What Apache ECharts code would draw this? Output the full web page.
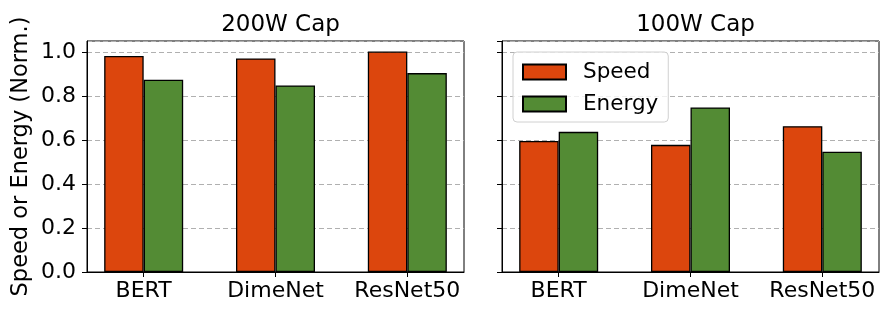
<!DOCTYPE html>
<html>
<head>
<meta charset="utf-8">
<script src="https://cdn.jsdelivr.net/npm/echarts@6/dist/echarts.min.js"></script>
<style>html,body{margin:0;padding:0;background:#fff}#c{width:891px;height:317px}</style>
</head>
<body>
<div id="c"></div>
<script>
const categories = ['BERT', 'DimeNet', 'ResNet50'];
const panelTitles = ['200W Cap', '100W Cap'];
const speed200 = [0.982, 0.971, 1.002];
const energy200 = [0.874, 0.848, 0.904];
const speed100 = [0.596, 0.578, 0.663];
const energy100 = [0.637, 0.748, 0.547];

const RED = '#DC460D';
const GREEN = '#538B34';
const FONT = 'DejaVu Sans';

const chart = echarts.init(document.getElementById('c'), null, {renderer: 'canvas'});
const grids = [
  {left: 87, top: 41, width: 377, height: 231},
  {left: 502, top: 41, width: 377, height: 231}
];
function xAxis(i) {
  return {
    type: 'value', gridIndex: i, min: -0.43, max: 2.43,
    axisLine: {show: true, onZero: false, lineStyle: {color: '#000', width: 1}},
    axisTick: {show: true, customValues: [0, 1, 2], length: 5, lineStyle: {color: '#000'}},
    axisLabel: {customValues: [0, 1, 2], formatter: v => categories[Math.round(v)], color: '#000',
      fontFamily: FONT, fontSize: 22, margin: 8},
    splitLine: {show: false}
  };
}
function yAxis(i) {
  const a = {
    type: 'value', gridIndex: i, min: 0, max: 1.05, interval: 0.2,
    axisLine: {show: true, onZero: false, lineStyle: {color: '#000', width: 1}},
    axisTick: {show: true, length: 5, lineStyle: {color: '#000'}},
    axisLabel: {show: i === 0, color: '#000', fontFamily: FONT, fontSize: 22, margin: 11,
      showMaxLabel: false, formatter: v => v.toFixed(1)},
    splitLine: {show: true, lineStyle: {color: '#b0b0b0', type: [5, 3], width: 1}}
  };
  if (i === 0) {
    a.name = 'Speed or Energy (Norm.)';
    a.nameLocation = 'middle';
    a.nameRotate = 90;
    a.nameGap = 54;
    a.nameTextStyle = {color: '#000', fontFamily: FONT, fontSize: 22.5};
  }
  return a;
}
function bars(name, vals, color, i) {
  return {
    type: 'bar', name: name, xAxisIndex: i, yAxisIndex: i,
    data: vals.map((v, k) => [k, v]),
    barWidth: 39.5, barGap: '0%',
    itemStyle: {color: color, borderColor: '#000', borderWidth: 1.3},
    emphasis: {disabled: true}
  };
}
chart.setOption({
  animation: false,
  backgroundColor: '#fff',
  title: panelTitles.map((t, i) => ({
    text: t, left: grids[i].left + grids[i].width / 2, top: 9, textAlign: 'center',
    textStyle: {color: '#000', fontFamily: FONT, fontSize: 23, fontWeight: 'normal'}
  })),
  grid: grids.map(g => Object.assign({show: true, borderColor: '#000', borderWidth: 1, backgroundColor: 'transparent'}, g)),
  xAxis: [xAxis(0), xAxis(1)],
  yAxis: [yAxis(0), yAxis(1)],
  legend: {
    data: ['Speed', 'Energy'], orient: 'vertical', left: 513, top: 52,
    itemWidth: 43, itemHeight: 15, itemGap: 10, icon: 'rect',
    padding: [9, 10, 7, 9],
    backgroundColor: 'rgba(255,255,255,0.8)', borderColor: '#d0d0d0', borderWidth: 1, borderRadius: 4,
    textStyle: {color: '#000', fontFamily: FONT, fontSize: 21.5, padding: [0, 0, 0, 12]},
    selectedMode: false
  },
  series: [
    bars('Speed', speed200, RED, 0),
    bars('Energy', energy200, GREEN, 0),
    bars('Speed', speed100, RED, 1),
    bars('Energy', energy100, GREEN, 1)
  ]
});
</script>
</body>
</html>
